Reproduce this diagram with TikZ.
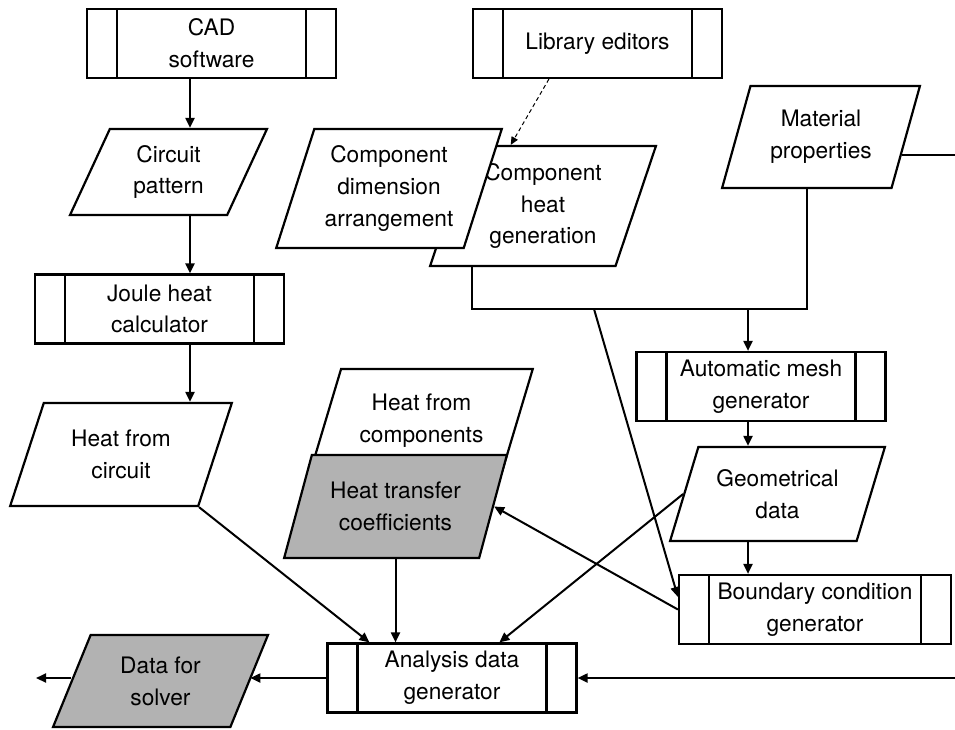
\documentclass[tikz,border=0pt]{standalone}
\usepackage{fontspec}
\setmainfont{TeX Gyre Heros}
\usepackage{tikz}
\usetikzlibrary{positioning}
\usetikzlibrary{shapes.geometric}
\usetikzlibrary{arrows.meta}
\usetikzlibrary{calc}

\begin{document}
\begin{tikzpicture}[
            x = 1pt,
            y = -1pt,
            font = \fontsize{22.7pt}{31.7pt}\selectfont,
            process/.style = {
                draw,
                rectangle,
                fill = white,
                line width = 2.2pt,
                minimum width = #1,
                minimum height = 69pt,
                inner sep = 0pt,
                align = center,
                path picture = {
                    \draw[line width = 2.2pt]
                        ([xshift=30pt]path picture bounding box.north west) -- ([xshift=30pt]path picture bounding box.south west)
                        ([xshift=-30pt]path picture bounding box.north east) -- ([xshift=-30pt]path picture bounding box.south east);
                }
            },
            process/.default = 249pt,
            io/.style 2 args = {
                draw,
                trapezium,
                trapezium left angle = 66,
                trapezium right angle = 114,
                trapezium stretches = true,
                fill = white,
                line width = 2.2pt,
                minimum width = #1,
                minimum height = #2,
                inner sep = 0pt,
                align = center
            },
            tall/.style = {
                trapezium left angle = 69,
                trapezium right angle = 111
            },
            shaded/.style = {fill = black!30},
            flow/.style = {
                -{Triangle[length=10pt, width=9pt]},
                line width = 2pt
            }
            ]
            \useasboundingbox (0,0) rectangle (955,729);

            % helper points
            \coordinate (col) at (190,0);
            \coordinate (split) at (748,309);
            \coordinate (tap) at (594,309);
            \coordinate (edge) at (955,0);
            \coordinate (out) at (36,678);

            % boxes
            \node[process] (cad) at (211.5,43.5) {CAD\\software};
            \node[process] (lib) at (597.5,43.5) {Library editors};
            \node[io={197pt}{86pt}] (circ) at (168.5,172) {Circuit\\pattern};
            \node[io={226pt}{120pt}, tall] (chg) at (543,206) {Component\\heat\\generation};
            \node[io={226pt}{119pt}, tall] (cda) at (389,188.5) {Component\\dimension\\arrangement};
            \node[io={198pt}{102pt}, tall] (mat) at (821,137) {Material\\properties};
            \node[process] (joule) at (159.5,309) {Joule heat\\calculator};
            \node[process] (amg) at (761,386.5) {Automatic mesh\\generator};
            \node[io={222pt}{103pt}] (hfc) at (121,454.5) {Heat from\\circuit};
            \node[io={223pt}{103pt}] (hcomp) at (421.5,420.5) {Heat from\\components};
            \node[io={223pt}{103pt}, shaded] (htc) at (395.5,506.5) {Heat transfer\\coefficients};
            \node[io={215pt}{94pt}] (geo) at (777.5,494) {Geometrical\\data};
            \node[process=272pt] (bcg) at (815,609.5) {Boundary condition\\generator};
            \node[process] (adg) at (452,678) {Analysis data\\generator};
            \node[io={215pt}{92pt}, shaded] (dfs) at (160.5,681) {Data for\\solver};

            % connectors
            \draw[flow] (cad.south -| col) -- (circ.north -| col);
            \draw[flow] (circ.south -| col) -- (joule.north -| col);
            \draw[flow] (joule.south -| col) -- (hfc.north -| col);
            \draw[flow] (hfc.bottom right corner) -- ($(adg.north west)+(43,0)$);
            \draw[flow] (htc.south) -- (htc.south |- adg.north);
            \draw[flow] (geo.west) -- ($(adg.north west)+(173,0)$);
            \draw[flow] (bcg.west) -- (htc.east);
            \draw[line width = 2pt] ($(chg.bottom left corner)+(43,0)$) |- (split)
                -| ($(mat.bottom left corner)!.5!(mat.bottom right corner)$);
            \draw[flow] (split) -- (amg.north -| split);
            \draw[flow] (amg.south -| split) -- (geo.north -| split);
            \draw[flow] (geo.south -| split) -- (bcg.north -| split);
            \draw[flow] (tap) -- ($(bcg.north west)+(0,23)$);
            \draw[-{Triangle[length=8pt, width=7pt]}, line width = 1pt, dash pattern = on 4pt off 3pt]
                ($(lib.south west)+(77,0)$) -- ($(chg.top left corner)+(41,0)$);
            \draw[line width = 2pt] ($(mat.bottom right corner)!.33!(mat.top right corner)$) coordinate (mr) -- (mr -| edge);
            \draw[flow] (adg.east -| edge) -- (adg.east);
            \draw[flow] (adg.west) -- (adg.west -| dfs.east);
            \draw[flow] (dfs.west |- adg.west) -- (out);
        \end{tikzpicture}
\end{document}
